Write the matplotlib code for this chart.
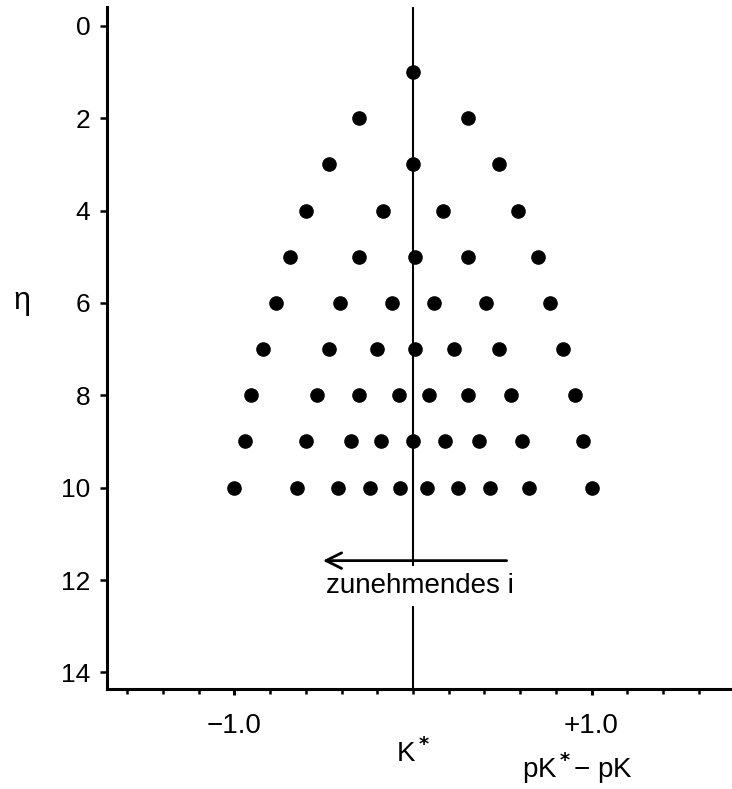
import matplotlib.pyplot as plt

plt.rcParams['font.family'] = ['Liberation Sans', 'DejaVu Sans']
plt.rcParams['mathtext.fontset'] = 'custom'
plt.rcParams['mathtext.rm'] = 'Liberation Sans'
plt.rcParams['mathtext.it'] = 'Liberation Sans'

# eta (number of groups) and the pK* - pK positions
eta_rows = [1, 2, 3, 4, 5, 6, 7, 8, 9, 10]
k_rows = [
    [0.00],
    [-0.30, 0.31],
    [-0.47, 0.00, 0.48],
    [-0.60, -0.17, 0.17, 0.59],
    [-0.69, -0.30, 0.01, 0.31, 0.70],
    [-0.77, -0.41, -0.12, 0.12, 0.41, 0.77],
    [-0.84, -0.47, -0.20, 0.01, 0.23, 0.48, 0.84],
    [-0.91, -0.54, -0.30, -0.08, 0.09, 0.31, 0.55, 0.91],
    [-0.94, -0.60, -0.35, -0.18, 0.00, 0.18, 0.37, 0.61, 0.95],
    [-1.00, -0.65, -0.42, -0.24, -0.07, 0.08, 0.25, 0.43, 0.65, 1.00],
]

y_ticks = [0, 2, 4, 6, 8, 10, 12, 14]
x_major = [-1.0, 1.0]
x_major_labels = ['\u22121.0', '+1.0']
x_minor = [-1.6, -1.4, -1.2, -0.8, -0.6, -0.4, -0.2, 0.0,
           0.2, 0.4, 0.6, 0.8, 1.2, 1.4, 1.6]

fig = plt.figure(figsize=(7.32, 7.89), dpi=100)
ax = fig.add_axes([0.1462, 0.1267, 0.8538, 0.864])

for eta, ks in zip(eta_rows, k_rows):
    ax.plot(ks, [eta] * len(ks), 'o', color='black', markersize=9.5,
            zorder=4, clip_on=False)

ax.axvline(0, color='black', lw=1.5, zorder=1)

ax.set_xlim(-1.714, 1.787)
ax.set_ylim(14.36, -0.40)

for s in ['top', 'right']:
    ax.spines[s].set_visible(False)
for s in ['left', 'bottom']:
    ax.spines[s].set_linewidth(2.2)

ax.set_yticks(y_ticks)
ax.set_yticklabels([str(v) for v in y_ticks])
ax.tick_params(axis='y', direction='out', length=5, width=1.8,
               labelsize=19, pad=7)

ax.set_xticks(x_major)
ax.set_xticklabels(x_major_labels)
ax.set_xticks(x_minor, minor=True)
ax.tick_params(axis='x', which='major', direction='out', length=4.5,
               width=2.2, labelsize=20, pad=13)
ax.tick_params(axis='x', which='minor', direction='out', length=3.3,
               width=1.8)

# arrow and its label
ax.annotate('', xy=(-0.52, 11.58), xytext=(0.54, 11.58),
            arrowprops=dict(arrowstyle='->', color='black', lw=2,
                            mutation_scale=28), zorder=5)
ax.text(0.04, 12.12, 'zunehmendes i', fontsize=20, ha='center',
        va='center', zorder=3,
        bbox=dict(facecolor='white', edgecolor='none', pad=5))

ax.text(-2.19, 5.95, '\u03b7', fontsize=22, ha='center', va='center',
        clip_on=False)
ax.text(0.0, 15.75, r'K$^{\bf *}$', fontsize=20, ha='center',
        va='center', clip_on=False)
ax.text(0.92, 16.45, 'pK$^{\\bf *}$\u2212 pK', fontsize=20, ha='center',
        va='bottom', clip_on=False)

fig.savefig('out.png', dpi=100)
